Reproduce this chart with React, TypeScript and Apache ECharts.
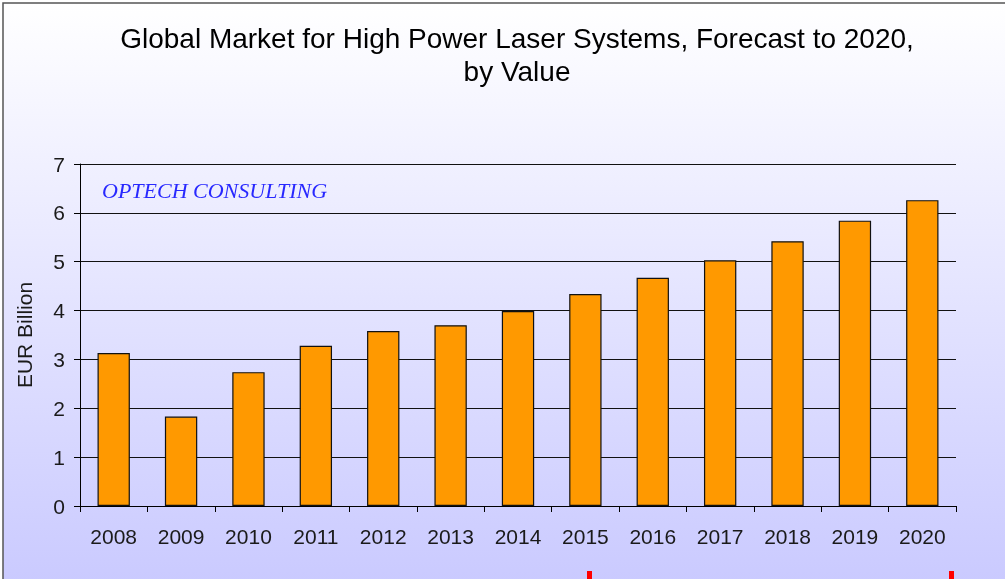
import React, { useEffect, useRef } from "react";
import * as echarts from "echarts";

const years = ["2008", "2009", "2010", "2011", "2012", "2013", "2014", "2015", "2016", "2017", "2018", "2019", "2020"];
const marketValues = [3.13, 1.83, 2.74, 3.28, 3.58, 3.7, 3.99, 4.34, 4.67, 5.03, 5.42, 5.84, 6.26];
const yTicks = [0, 1, 2, 3, 4, 5, 6, 7];
const titleLines = ["Global Market for High Power Laser Systems, Forecast to 2020,", "by Value"];
const yAxisName = "EUR Billion";
const watermark = "OPTECH CONSULTING";

export default function App() {
  const ref = useRef<HTMLDivElement>(null);
  useEffect(() => {
    if (!ref.current) return;
    const chart = echarts.init(ref.current, undefined, { renderer: "svg" });
    const font = "Liberation Sans, Arial, sans-serif";
    chart.setOption({
      animation: false,
      graphic: [
        {
          type: "rect",
          z: -100,
          shape: { x: 3, y: 3, width: 1020, height: 600 },
          style: {
            fill: new echarts.graphic.LinearGradient(0, 0, 0, 1, [
              { offset: 0, color: "#ffffff" },
              { offset: 1, color: "#c8c8ff" },
            ]),
            stroke: "#555555",
            lineWidth: 1.5,
          },
        },
        {
          type: "text",
          x: 517,
          y: 38,
          style: { text: titleLines[0], fontSize: 28, fontFamily: font, fill: "#000", textAlign: "center", textVerticalAlign: "middle" },
        },
        {
          type: "text",
          x: 517,
          y: 71,
          style: { text: titleLines[1], fontSize: 28, fontFamily: font, fill: "#000", textAlign: "center", textVerticalAlign: "middle" },
        },
        {
          type: "text",
          x: 102,
          y: 190,
          z: 10,
          style: { text: watermark, fontSize: 22, fontStyle: "italic", fontFamily: "Liberation Serif, Times New Roman, serif", fill: "#2828ff", textAlign: "left", textVerticalAlign: "middle" },
        },
        { type: "rect", shape: { x: 587, y: 571, width: 5, height: 10 }, style: { fill: "#ff0000" } },
        { type: "rect", shape: { x: 949, y: 571, width: 5, height: 10 }, style: { fill: "#ff0000" } },
      ],
      grid: { left: 80, right: 49, top: 164, bottom: 73, containLabel: false },
      xAxis: {
        type: "category",
        data: years,
        axisLine: { lineStyle: { color: "#000", width: 1 } },
        axisTick: { show: true, length: 6, lineStyle: { color: "#000" } },
        axisLabel: { fontSize: 21, fontFamily: font, color: "#1a1a1a", margin: 20 },
      },
      yAxis: {
        type: "value",
        min: 0,
        max: 7,
        interval: 1,
        name: yAxisName,
        nameLocation: "middle",
        nameGap: 45,
        nameRotate: 90,
        nameTextStyle: { fontSize: 21, fontFamily: font, color: "#1a1a1a" },
        axisLine: { show: true, lineStyle: { color: "#000", width: 1 } },
        axisTick: { show: true, length: 6, lineStyle: { color: "#000" } },
        axisLabel: {
          fontSize: 21,
          fontFamily: font,
          color: "#1a1a1a",
          margin: 15,
          formatter: (v: number) => (yTicks.includes(v) ? String(v) : ""),
        },
        splitLine: { show: true, lineStyle: { color: "#111", width: 1 } },
      },
      series: [
        {
          type: "bar",
          data: marketValues,
          barWidth: "48%",
          itemStyle: { color: "#ff9900", borderColor: "#111", borderWidth: 1.2 },
        },
      ],
    });
    return () => chart.dispose();
  }, []);
  return <div ref={ref} style={{ position: "fixed", left: 0, top: 0, width: 1005, height: 579 }} />;
}
